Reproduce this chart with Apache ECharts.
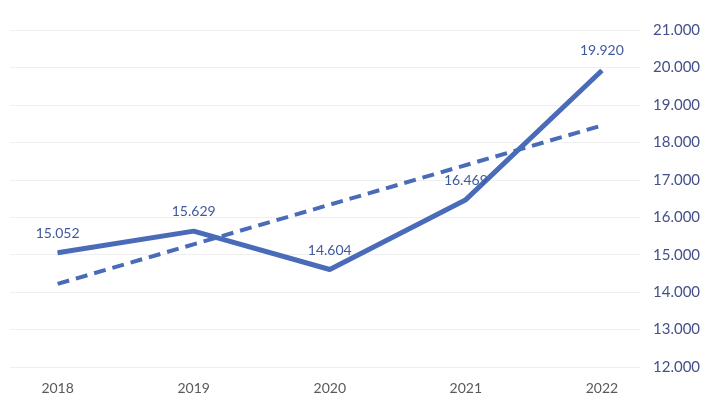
<!DOCTYPE html>
<html>
<head>
<meta charset="utf-8">
<script src="https://cdn.jsdelivr.net/npm/echarts@6/dist/echarts.min.js"></script>
<style>html,body{margin:0;padding:0;background:#fff}#c{width:727px;height:408px}</style>
</head>
<body>
<div id="c"></div>
<script>
var categories = ['2018', '2019', '2020', '2021', '2022'];
var values = [15.052, 15.629, 14.604, 16.469, 19.920];
var trendValues = [14.22, null, null, null, 18.45];
var yTicks = [12, 13, 14, 15, 16, 17, 18, 19, 20, 21];

var chart = echarts.init(document.getElementById('c'));
var font = 'Lato, "Open Sans", sans-serif';
chart.setOption({
  animation: false,
  grid: { left: 10, right: 87, top: 30, bottom: 41 },
  xAxis: {
    type: 'value', min: -0.35, max: 4.28,
    axisLine: { show: false }, axisTick: { show: false }, splitLine: { show: false },
    axisLabel: {
      customValues: categories.map(function (c, i) { return i; }),
      formatter: function (v) { return categories[Math.round(v)]; },
      color: '#595959', fontSize: 14, fontFamily: font, margin: 14
    }
  },
  yAxis: {
    type: 'value', position: 'right', min: yTicks[0], max: yTicks[yTicks.length - 1], interval: 1,
    axisLine: { show: false }, axisTick: { show: false },
    splitLine: { lineStyle: { color: '#efefef', width: 1 } },
    axisLabel: {
      formatter: function (v) { return v.toFixed(3); },
      color: '#44508a', fontSize: 15, fontFamily: font, margin: 13
    }
  },
  series: [
    {
      type: 'line',
      data: values.map(function (v, i) { return [i, v]; }),
      symbol: 'circle', symbolSize: 1, showSymbol: true,
      itemStyle: { color: '#4a6bb8' },
      lineStyle: { color: '#4a6bb8', width: 5 },
      label: {
        show: true, position: 'top', distance: 12,
        formatter: function (p) { return p.value[1].toFixed(3); },
        color: '#3f5a9c', fontSize: 14, fontFamily: font
      },
      z: 3
    },
    {
      type: 'line',
      data: trendValues.map(function (v, i) { return [i, v]; }),
      connectNulls: true,
      symbol: 'none',
      lineStyle: { color: '#4a6bb8', width: 4, type: [12, 7] },
      z: 2
    }
  ]
});
</script>
</body>
</html>
